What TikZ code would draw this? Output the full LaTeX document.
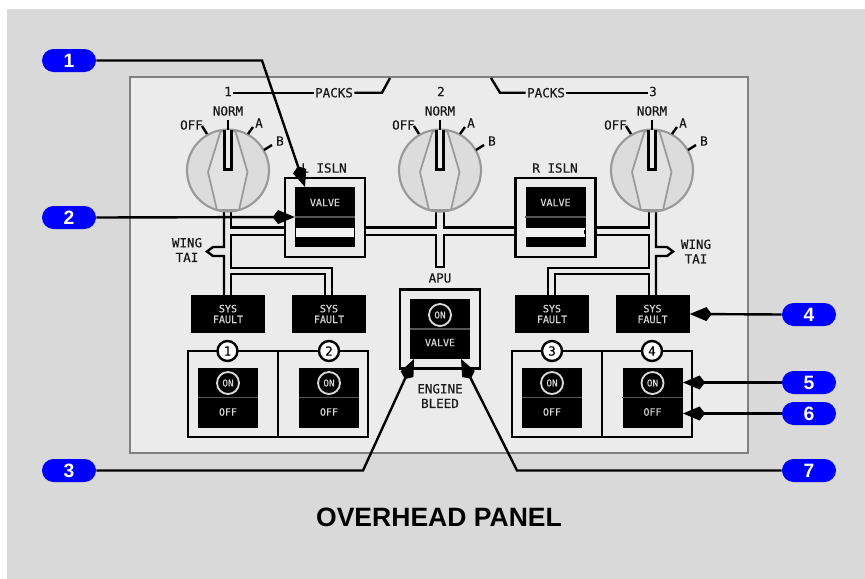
\documentclass[tikz,border=0pt]{standalone}
\usepackage{fontspec}
\setmainfont{Liberation Sans}
\setmonofont[FakeBold=0.3]{DejaVu Sans Mono}
\usetikzlibrary{positioning, shapes.misc, arrows.meta}
\definecolor{backdrop}{HTML}{d9d9d9}
\definecolor{panelbg}{HTML}{ebebeb}
\definecolor{edge}{HTML}{808080}
\definecolor{knobedge}{HTML}{999999}
\definecolor{knobbg}{HTML}{dcdcdc}
\definecolor{knobtop}{HTML}{e2e2e2}
\definecolor{legend}{HTML}{d8d8d8}
\definecolor{split}{HTML}{555555}
\definecolor{callblue}{HTML}{0000ff}

\begin{document}
\begin{tikzpicture}[x=0.75pt, y=-0.75pt,
  wall/.style={draw=black, line width=1.8pt},
  lbl/.style={font=\ttfamily\fontsize{9.4}{11}\selectfont, text=black!90, inner sep=1pt, align=center},
  smalltxt/.style={font=\ttfamily\fontsize{7.5}{7.5}\selectfont, text=legend, inner sep=0pt, align=center},
  swbox/.style={fill=black, minimum width=45pt, minimum height=45pt, inner sep=0pt},
  faultbox/.style={fill=black, minimum width=55.5pt, minimum height=28.5pt, inner sep=0pt, smalltxt},
  housing/.style={draw=black, line width=1.8pt, fill=panelbg, minimum width=60pt, minimum height=59.5pt, inner sep=0pt},
  onring/.style={circle, draw=legend, line width=1.4pt, minimum size=16.5pt, inner sep=0pt, font=\ttfamily\fontsize{7}{7}\selectfont, text=legend},
  numring/.style={circle, draw=black, line width=1.8pt, fill=white, minimum size=15pt, inner sep=0pt, font=\ttfamily\fontsize{9.4}{11}\selectfont},
  pill/.style={rounded rectangle, fill=callblue, minimum width=40.5pt, minimum height=17.25pt, inner sep=0pt, text=white, font=\fontsize{14.5}{15}\selectfont\bfseries},
  callout/.style={draw=black, line width=1.8pt, -{Kite[length=16.5pt, width=10.5pt, inset=4pt]}}
]
  \path[use as bounding box] (0,0) rectangle (865,579);
  \fill[white] (0,0) rectangle (865,579);
  \fill[backdrop] (7,9) rectangle (865,579);
  \node[draw=edge, line width=1.6pt, fill=panelbg, minimum width=463.5pt, minimum height=282pt, inner sep=0pt] (panel) at (439,265) {};

  \draw[wall] (224,212) -- (224,247) -- (213,247) -- (207,251.5) -- (213,256) -- (224,256) -- (224,295);
  \draw[wall] (231,212) -- (231,227.5) -- (285,227.5);
  \draw[wall] (285,235) -- (231,235) -- (231,268) -- (332,268) -- (332,295);
  \draw[wall] (231,295) -- (231,274) -- (325,274) -- (325,295);
  \draw[wall] (365,227.5) -- (436,227.5) -- (436,212);
  \draw[wall] (444,212) -- (444,227.5) -- (516,227.5);
  \draw[wall] (365,235) -- (436,235) -- (436,267) -- (444,267) -- (444,235) -- (516,235);
  \draw[wall] (595,227.5) -- (649,227.5) -- (649,212);
  \draw[wall] (595,235) -- (649,235) -- (649,268) -- (548,268) -- (548,295);
  \draw[wall] (649,295) -- (649,274) -- (555,274) -- (555,295);
  \draw[wall] (656,212) -- (656,247) -- (667,247) -- (673,251.5) -- (667,256) -- (656,256) -- (656,295);

  \foreach \x/\n in {228/1, 440/2, 652/3} {
    \begin{scope}[shift={(\x,170.5)}]
      \node[circle, draw=knobedge, line width=1.6pt, fill=knobbg, minimum size=61.5pt, inner sep=0pt] (knob\n) at (0,0) {};
      \draw[knobedge, line width=1.3pt, fill=knobtop] (-7.5,-39) -- (-20,1.5) -- (-11,39.5) -- (11,39.5) -- (19.5,1.5) -- (7.5,-39) -- cycle;
      \draw[wall, fill=panelbg] (-3.5,-41) -- (-3.5,-1) -- (3.5,-1) -- (3.5,-41);
      \draw[wall] (0,-51) -- (0,-41);
      \draw[wall] (-26,-44.5) -- (-21,-36.5);
      \draw[wall] (25,-43.5) -- (20,-36.5);
      \draw[wall] (44,-25.5) -- (36,-20.5);
      \node[lbl] (norm\n) at (0,-59.5) {NORM};
      \node[lbl] (off\n) at (-36.5,-45.5) {OFF};
      \node[lbl] (a\n) at (31,-47.5) {A};
      \node[lbl] (b\n) at (52,-29.5) {B};
    \end{scope}
  }

  \node[lbl] (pack1) at (228,91.5) {1};
  \node[lbl] (pack2) at (441,91.5) {2};
  \node[lbl] (pack3) at (653,91.5) {3};
  \node[lbl] (packsL) at (334,92.7) {PACKS};
  \node[lbl] (packsR) at (546,92.7) {PACKS};
  \coordinate (notchL) at (390,78);
  \coordinate (notchR) at (491,78);
  \draw[wall] (pack1.east |- packsL.west) -- (packsL.west);
  \draw[wall] (packsL.east) -- (382,92.7) -- (notchL);
  \draw[wall] (notchR) -- (500,92.7) -- (packsR.west);
  \draw[wall] (packsR.east) -- (pack3.west |- packsR.east);

  \node[housing] (isolL) at (325,217.5) {};
  \node[housing] (isolR) at (555.5,217.5) {};
  \node[lbl] (islnL) at (324,168) {L ISLN};
  \node[lbl] (islnR) at (555,168) {R ISLN};
  \foreach \x/\n in {325/L, 555.5/R} {
    \node[swbox] (valve\n) at (\x,217) {};
    \node[smalltxt] (txt\n) at (\x,202.5) {VALVE};
    \draw[split, line width=1.3pt] (valve\n.west) -- (valve\n.east);
    \fill[panelbg!60!white] (\x-29.5,227.5) rectangle (\x+29,236.5);
  }
  \draw[black, line width=0.6pt] (295.6,230) -- (295.6,234);
  \draw[black, line width=0.6pt] (584.5,230) -- (584.5,234);

  \node[housing] (apubox) at (440,329) {};
  \node[swbox] (apusw) at (440,329) {};
  \draw[split, line width=1.3pt] (apusw.west) -- (apusw.east);
  \node[onring] (apuon) at (440,315) {ON};
  \node[smalltxt] (apuvalve) at (440,342.5) {VALVE};
  \node[lbl] (apulbl) at (440,278) {APU};
  \node[lbl] (bleed) at (440,396) {ENGINE\\BLEED};

  \node[lbl] (taiL) at (187,250) {WING\\TAI};
  \node[lbl] (taiR) at (696,251.5) {WING\\TAI};

  \foreach \x/\n in {228/1, 329/2, 552/3, 652.5/4} {
    \node[faultbox] (fault\n) at (\x,314) {SYS\\[0.6pt]FAULT};
    \node[swbox] (eng\n) at (\x,397.5) {};
    \draw[split, line width=1.3pt] (eng\n.west) -- (eng\n.east);
    \node[onring] (on\n) at (\x,383) {ON};
    \node[smalltxt] (off\n) at (\x,412) {OFF};
  }
  \draw[wall] (188,351) rectangle (368,437);
  \draw[wall] (278,351) -- (278,437);
  \draw[wall] (512,351) rectangle (692,437);
  \draw[wall] (602,351) -- (602,437);
  \foreach \x/\n in {227.5/1, 329/2, 552/3, 652/4}
    \node[numring] (ring\n) at (\x,351) {\n};

  \node[font=\fontsize{19.9}{22}\selectfont\bfseries, inner sep=0pt] (title) at (439,517.5) {OVERHEAD PANEL};

  \node[pill] (call1) at (69,60.5) {1};
  \node[pill] (call2) at (69,217.5) {2};
  \node[pill] (call3) at (69,470.5) {3};
  \node[pill] (call4) at (809,314.5) {4};
  \node[pill] (call5) at (809,382.5) {5};
  \node[pill] (call6) at (809,413.5) {6};
  \node[pill] (call7) at (809,470.5) {7};
  \coordinate (bend1) at (262,60.5);
  \coordinate (tip1) at (305,187);
  \coordinate (bend3) at (363,470.5);
  \coordinate (tip3) at (414,359);
  \coordinate (bend7) at (517,470.5);
  \coordinate (tip7) at (461,359);
  \coordinate (tip5) at (683,382.5);
  \coordinate (tip6) at (683,413.5);
  \draw[callout] (call1.east) -- (bend1) -- (tip1);
  \draw[callout] (call2.east) -- (valveL.west);
  \draw[callout] (call3.east) -- (bend3) -- (tip3);
  \draw[callout] (call4.west) -- (fault4.east);
  \draw[callout] (call5.west) -- (tip5);
  \draw[callout] (call6.west) -- (tip6);
  \draw[callout] (call7.west) -- (bend7) -- (tip7);
\end{tikzpicture}
\end{document}
